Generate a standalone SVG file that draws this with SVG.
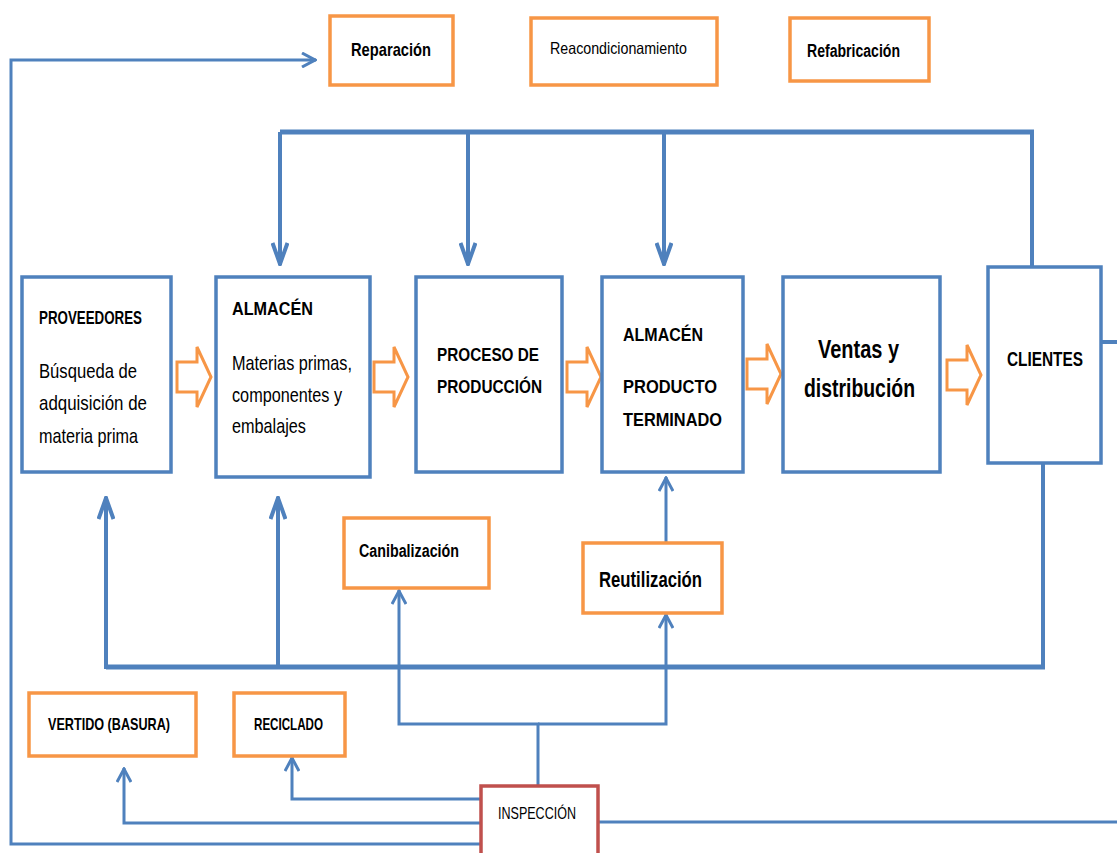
<svg xmlns="http://www.w3.org/2000/svg" width="1117" height="853" viewBox="0 0 1117 853">
<style>
  .bx{fill:#fff;stroke:#4F81BD;stroke-width:3.5}
  .ob{fill:#fff;stroke:#F79646;stroke-width:3.5}
  .rb{fill:#fff;stroke:#C0504D;stroke-width:3.5}
  .ha{fill:#fff;stroke:#F79646;stroke-width:3}
  .t{font-family:"Liberation Sans",Arial,sans-serif;fill:#000}
  .b{font-weight:bold}
  .ln{fill:none;stroke:#4F81BD;stroke-linejoin:miter}
  .w5{stroke-width:5}
  .w4{stroke-width:4}
  .w3{stroke-width:3}
</style>
<defs>
  <marker id="ah" markerUnits="userSpaceOnUse" viewBox="0 0 24 18" refX="23" refY="9" markerWidth="24" markerHeight="18" orient="auto">
    <path d="M1,1.5 L22,9 L1,16.5" fill="none" stroke="#4F81BD" stroke-width="4"/>
  </marker>
  <marker id="ahs" markerUnits="userSpaceOnUse" viewBox="0 0 16 16" refX="15" refY="8" markerWidth="16" markerHeight="16" orient="auto">
    <path d="M1,1 L14,8 L1,15" fill="none" stroke="#4F81BD" stroke-width="3"/>
  </marker>
</defs>

<g id="connectors">
  <path class="ln w3" d="M480,844 H11 V60 H316" marker-end="url(#ahs)"/>
  <path class="ln w4" d="M1032,267 V132"/>
  <path class="ln w5" d="M1034,132 H280"/>
  <path class="ln w4" d="M280,132 V265" marker-end="url(#ah)"/>
  <path class="ln w4" d="M468,132 V265" marker-end="url(#ah)"/>
  <path class="ln w4" d="M664,132 V265" marker-end="url(#ah)"/>
  <path class="ln w4" d="M1043,463 V667"/>
  <path class="ln w5" d="M1045,667 H106"/>
  <path class="ln w4" d="M106,669 V497" marker-end="url(#ah)"/>
  <path class="ln w4" d="M278,667 V497" marker-end="url(#ah)"/>
  <path class="ln w3" d="M538,786 V724 H399 V590" marker-end="url(#ahs)"/>
  <path class="ln w3" d="M538,724 H666 V614" marker-end="url(#ahs)"/>
  <path class="ln w3" d="M666,543 V477" marker-end="url(#ahs)"/>
  <path class="ln w3" d="M480,799 H292 V757" marker-end="url(#ahs)"/>
  <path class="ln w3" d="M480,823 H124 V768" marker-end="url(#ahs)"/>
  <path class="ln w3" d="M598,822 H1117"/>
  <path class="ln w4" d="M1101,342 H1117"/>
  <polygon class="ha" points="177,362 197,362 197,347 211,377 197,407 197,392 177,392"/>
  <polygon class="ha" points="374,362 394,362 394,347 408,377 394,407 394,392 374,392"/>
  <polygon class="ha" points="567,362 587,362 587,347 601,377 587,407 587,392 567,392"/>
  <polygon class="ha" points="747,359 767,359 767,344 781,374 767,404 767,389 747,389"/>
  <polygon class="ha" points="947,360 967,360 967,345 981,375 967,405 967,390 947,390"/>
</g>

<g id="reparacion">
  <rect class="ob" x="330" y="16" width="123" height="69"/>
  <text class="t b" x="351" y="56" font-size="19" textLength="80" lengthAdjust="spacingAndGlyphs">Reparación</text>
</g>
<g id="reacondicionamiento">
  <rect class="ob" x="531" y="18" width="186" height="67"/>
  <text class="t" x="550" y="54" font-size="16.5" textLength="137" lengthAdjust="spacingAndGlyphs">Reacondicionamiento</text>
</g>
<g id="refabricacion">
  <rect class="ob" x="790" y="18" width="139" height="63"/>
  <text class="t b" x="807" y="57" font-size="18" textLength="93" lengthAdjust="spacingAndGlyphs">Refabricación</text>
</g>

<g id="proveedores">
  <rect class="bx" x="22" y="277" width="149" height="195"/>
  <text class="t b" x="39" y="324" font-size="18" textLength="103" lengthAdjust="spacingAndGlyphs">PROVEEDORES</text>
  <text class="t" x="39" y="378" font-size="21" textLength="98" lengthAdjust="spacingAndGlyphs">Búsqueda de</text>
  <text class="t" x="39" y="410" font-size="21" textLength="108" lengthAdjust="spacingAndGlyphs">adquisición de</text>
  <text class="t" x="39" y="443" font-size="21" textLength="99" lengthAdjust="spacingAndGlyphs">materia prima</text>
</g>
<g id="almacen">
  <rect class="bx" x="216" y="277" width="154" height="200"/>
  <text class="t b" x="232" y="315" font-size="19" textLength="81" lengthAdjust="spacingAndGlyphs">ALMACÉN</text>
  <text class="t" x="232" y="370" font-size="21" textLength="120" lengthAdjust="spacingAndGlyphs">Materias primas,</text>
  <text class="t" x="232" y="402" font-size="21" textLength="110" lengthAdjust="spacingAndGlyphs">componentes y</text>
  <text class="t" x="232" y="433" font-size="21" textLength="74" lengthAdjust="spacingAndGlyphs">embalajes</text>
</g>
<g id="proceso">
  <rect class="bx" x="416" y="277" width="146" height="195"/>
  <text class="t b" x="437" y="361" font-size="17.5" textLength="102" lengthAdjust="spacingAndGlyphs">PROCESO DE</text>
  <text class="t b" x="437" y="393" font-size="17.5" textLength="105" lengthAdjust="spacingAndGlyphs">PRODUCCIÓN</text>
</g>
<g id="almacen-pt">
  <rect class="bx" x="602" y="277" width="141" height="195"/>
  <text class="t b" x="623" y="341" font-size="18" textLength="80" lengthAdjust="spacingAndGlyphs">ALMACÉN</text>
  <text class="t b" x="623" y="393" font-size="19" textLength="94" lengthAdjust="spacingAndGlyphs">PRODUCTO</text>
  <text class="t b" x="623" y="426" font-size="19" textLength="99" lengthAdjust="spacingAndGlyphs">TERMINADO</text>
</g>
<g id="ventas">
  <rect class="bx" x="783" y="277" width="157" height="195"/>
  <text class="t b" x="818" y="358" font-size="25" textLength="81" lengthAdjust="spacingAndGlyphs">Ventas y</text>
  <text class="t b" x="804" y="397" font-size="25" textLength="111" lengthAdjust="spacingAndGlyphs">distribución</text>
</g>
<g id="clientes">
  <rect class="bx" x="988" y="267" width="113" height="196"/>
  <text class="t b" x="1007" y="366" font-size="19.5" textLength="76" lengthAdjust="spacingAndGlyphs">CLIENTES</text>
</g>

<g id="canibalizacion">
  <rect class="ob" x="344" y="518" width="145" height="70"/>
  <text class="t b" x="359" y="557" font-size="18" textLength="100" lengthAdjust="spacingAndGlyphs">Canibalización</text>
</g>
<g id="reutilizacion">
  <rect class="ob" x="583" y="543" width="139" height="70"/>
  <text class="t b" x="599" y="587" font-size="22" textLength="103" lengthAdjust="spacingAndGlyphs">Reutilización</text>
</g>
<g id="vertido">
  <rect class="ob" x="29" y="693" width="167" height="63"/>
  <text class="t b" x="48" y="730" font-size="17" textLength="122" lengthAdjust="spacingAndGlyphs">VERTIDO (BASURA)</text>
</g>
<g id="reciclado">
  <rect class="ob" x="234" y="693" width="111" height="63"/>
  <text class="t b" x="254" y="730" font-size="17" textLength="69" lengthAdjust="spacingAndGlyphs">RECICLADO</text>
</g>
<g id="inspeccion">
  <rect class="rb" x="481" y="786" width="117" height="80"/>
  <text class="t" x="498" y="819" font-size="16.5" textLength="78" lengthAdjust="spacingAndGlyphs">INSPECCIÓN</text>
</g>
</svg>
